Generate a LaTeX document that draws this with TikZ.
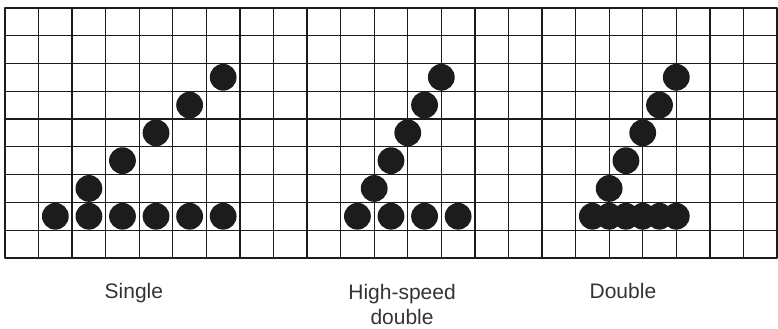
\documentclass[tikz,border=0pt]{standalone}
\usepackage{fontspec}
\setmainfont{Liberation Sans}
\usetikzlibrary{positioning}
\definecolor{ink}{HTML}{1C1C1C}
\definecolor{labelgray}{HTML}{333333}
\tikzset{
    every picture/.style={line cap=round,line join=round},
    gridline/.style={draw=ink,line width=0.65pt},
    gridframe/.style={draw=ink,line width=0.9pt},
    dotmark/.style={fill=ink},
    caption/.style={text=labelgray,align=center,anchor=base,inner sep=0pt,
      font=\fontsize{10.5}{12.5}\selectfont}
}

\begin{document}
\begin{tikzpicture}[x=16.785pt,y=13.9pt]
  \useasboundingbox (-0.149,-2.554) rectangle (23.03,9.28);
  % squared paper
  \foreach \i in {1,...,22} \draw[gridline] (\i,0) -- (\i,9);
  \foreach \j in {1,...,8} \draw[gridline] (0,\j) -- (23,\j);
  \draw[gridframe] (0,0) rectangle (23,9);
  % single
  \foreach \x in {1.5,2.5,...,6.5} \fill[dotmark] (\x,1.5) circle[radius=6.7pt];
  \foreach \k in {2,...,6} \fill[dotmark] (\k+0.5,\k+0.5) circle[radius=6.7pt];
  % high-speed double
  \foreach \x in {10.5,11.5,12.5,13.5} \fill[dotmark] (\x,1.5) circle[radius=6.7pt];
  \foreach \k in {2,...,6} \fill[dotmark] (10+\k/2,\k+0.5) circle[radius=6.7pt];
  % double
  \foreach \x in {17.5,18,...,20} \fill[dotmark] (\x,1.5) circle[radius=6.7pt];
  \foreach \k in {2,...,6} \fill[dotmark] (17+\k/2,\k+0.5) circle[radius=6.7pt];
  % captions
  \node[caption] (single) at (3.84,-1.47) {Single};
  \node[caption] (hsdouble) at (11.83,-2.41) {High-speed\\double};
  \node[caption] (double) at (18.41,-1.47) {Double};
\end{tikzpicture}
\end{document}
